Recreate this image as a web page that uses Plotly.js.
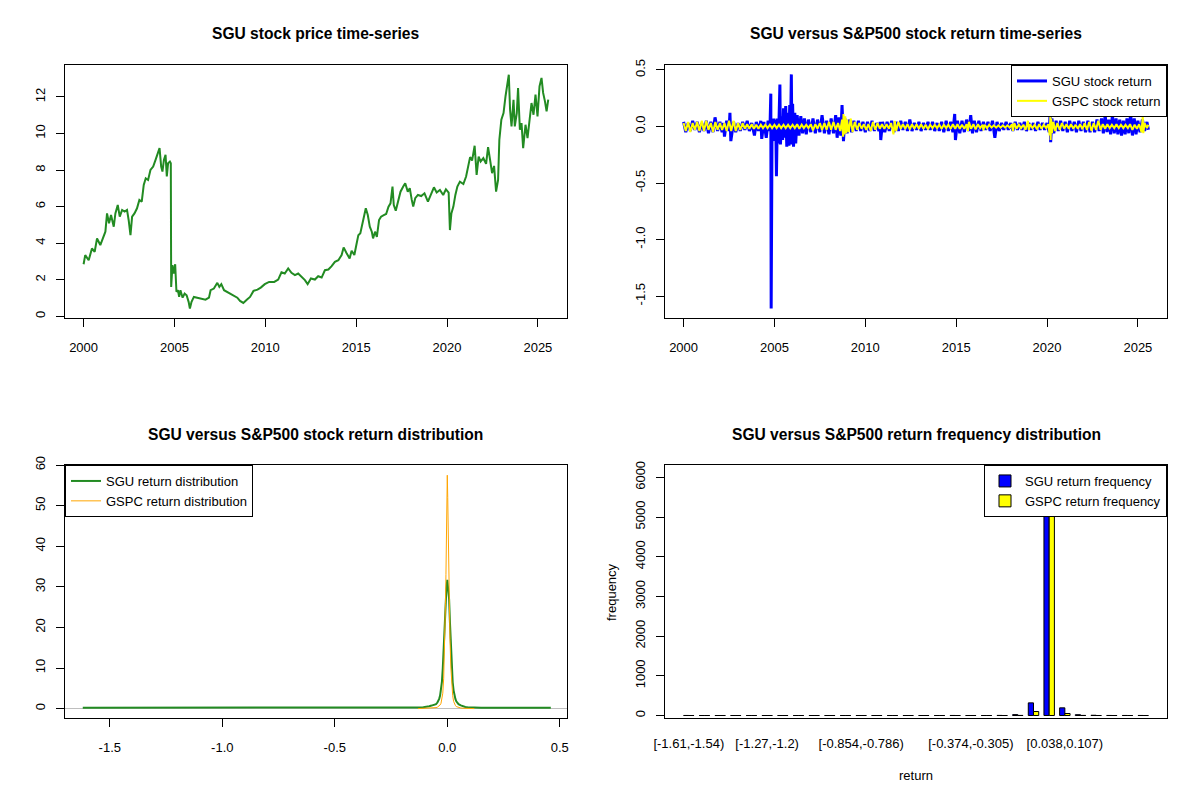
<!DOCTYPE html>
<html>
<head>
<meta charset="utf-8">
<script src="https://cdn.plot.ly/plotly-3.0.1.min.js"></script>
<style>html,body{margin:0;padding:0;background:#fff;}#chart{width:1200px;height:800px;}</style>
</head>
<body>
<div id="chart"></div>
<script>
// ---------- Panel 1: SGU price ----------
const priceYear = [2000.00,2000.09,2000.28,2000.46,2000.61,2000.74,2000.92,2001.07,2001.20,2001.29,2001.40,2001.51,2001.66,2001.75,2001.88,2001.99,2002.12,2002.26,2002.39,2002.48,2002.58,2002.67,2002.80,2002.94,2003.07,2003.20,2003.31,2003.42,2003.55,2003.68,2003.83,2003.96,2004.05,2004.18,2004.27,2004.34,2004.42,2004.51,2004.58,2004.65,2004.75,2004.80,2004.82,2004.89,2004.97,2005.04,2005.11,2005.19,2005.26,2005.33,2005.45,2005.56,2005.67,2005.78,2005.85,2005.94,2006.07,2006.25,2006.44,2006.71,2006.90,2006.99,2007.17,2007.36,2007.47,2007.58,2007.73,2007.91,2008.09,2008.28,2008.46,2008.61,2008.79,2008.98,2009.16,2009.35,2009.57,2009.75,2009.97,2010.21,2010.49,2010.71,2010.89,2011.07,2011.26,2011.44,2011.63,2011.81,2011.99,2012.18,2012.33,2012.51,2012.73,2012.91,2013.10,2013.28,2013.47,2013.65,2013.83,2014.02,2014.20,2014.31,2014.46,2014.64,2014.75,2014.90,2015.01,2015.12,2015.23,2015.34,2015.45,2015.53,2015.64,2015.75,2015.86,2015.93,2016.04,2016.14,2016.26,2016.37,2016.52,2016.65,2016.78,2016.89,2017.00,2017.07,2017.18,2017.29,2017.44,2017.59,2017.70,2017.84,2017.95,2018.06,2018.14,2018.25,2018.40,2018.58,2018.76,2018.95,2019.09,2019.28,2019.43,2019.61,2019.79,2019.94,2020.09,2020.16,2020.24,2020.35,2020.46,2020.57,2020.71,2020.90,2021.05,2021.16,2021.27,2021.38,2021.52,2021.63,2021.74,2021.85,2022.00,2022.15,2022.26,2022.37,2022.48,2022.59,2022.70,2022.81,2022.88,2022.99,2023.11,2023.22,2023.31,2023.40,2023.47,2023.55,2023.66,2023.73,2023.84,2023.91,2024.01,2024.10,2024.19,2024.32,2024.43,2024.54,2024.65,2024.76,2024.87,2024.98,2025.09,2025.20,2025.29,2025.39,2025.48,2025.57];
const priceValue = [2.85,3.35,3.07,3.71,3.53,4.26,3.90,4.35,4.63,5.63,5.09,5.54,4.90,5.63,6.09,5.45,5.82,5.73,5.82,5.27,4.44,5.45,5.63,5.91,6.37,6.27,7.19,7.55,7.46,8.01,8.19,8.56,8.83,9.20,8.19,7.92,8.56,8.83,7.65,8.38,8.47,8.38,1.61,2.80,2.34,2.85,1.34,1.43,1.06,1.43,1.02,1.24,1.15,0.79,0.42,0.79,1.06,1.02,0.97,0.91,1.02,1.43,1.52,1.83,1.61,1.76,1.43,1.34,1.24,1.13,1.02,0.84,0.73,0.91,1.06,1.39,1.46,1.57,1.76,1.88,1.88,2.01,2.41,2.34,2.62,2.38,2.25,2.34,2.16,1.98,1.76,2.07,2.01,2.19,2.12,2.52,2.56,2.74,2.98,3.07,3.35,3.77,3.48,3.16,3.59,3.35,3.90,4.44,4.54,5.09,5.45,5.91,5.54,4.90,4.63,4.26,4.63,4.35,5.27,5.45,5.54,5.60,6.00,6.18,7.10,6.09,5.78,6.18,6.82,7.10,7.28,6.82,7.01,6.37,6.00,6.46,6.64,6.58,6.73,6.27,6.64,7.06,6.77,6.91,6.64,6.95,6.77,4.72,5.63,6.00,6.64,7.10,7.37,7.24,7.65,8.10,8.71,8.52,9.33,7.74,8.74,8.47,8.65,8.34,9.26,8.56,7.83,8.23,6.82,7.46,9.66,10.76,11.12,12.04,12.77,13.22,11.30,10.39,11.85,10.39,11.12,12.49,10.21,10.57,9.20,10.48,9.75,10.66,11.67,11.03,12.13,10.94,12.58,13.04,12.22,11.76,11.21,11.85];
const yearTicks = [2000,2005,2010,2015,2020,2025];
const priceTicks = [0,2,4,6,8,10,12];

// ---------- Panel 2: daily returns ----------
const sguRetYear = [2000.00,2000.12,2000.25,2000.37,2000.50,2000.62,2000.75,2000.87,2001.00,2001.12,2001.25,2001.37,2001.50,2001.62,2001.73,2001.87,2002.00,2002.12,2002.20,2002.25,2002.37,2002.50,2002.55,2002.60,2002.75,2002.87,2003.00,2003.12,2003.25,2003.37,2003.50,2003.62,2003.75,2003.90,2004.00,2004.12,2004.25,2004.30,2004.42,2004.55,2004.65,2004.75,2004.80,2004.82,2004.87,2004.92,2004.97,2005.02,2005.07,2005.11,2005.16,2005.22,2005.30,2005.33,2005.40,2005.45,2005.50,2005.55,2005.62,2005.68,2005.75,2005.80,2005.84,2005.88,2005.93,2005.96,2006.00,2006.05,2006.12,2006.17,2006.25,2006.35,2006.45,2006.55,2006.65,2006.75,2006.87,2007.00,2007.12,2007.25,2007.37,2007.50,2007.62,2007.75,2007.87,2008.00,2008.12,2008.25,2008.37,2008.45,2008.55,2008.65,2008.72,2008.80,2008.87,2009.00,2009.12,2009.25,2009.37,2009.50,2009.62,2009.75,2009.87,2010.00,2010.12,2010.25,2010.37,2010.50,2010.62,2010.75,2010.82,2010.85,2010.95,2011.07,2011.20,2011.32,2011.45,2011.57,2011.70,2011.82,2011.95,2012.07,2012.20,2012.32,2012.45,2012.57,2012.70,2012.82,2012.95,2013.07,2013.20,2013.32,2013.45,2013.57,2013.70,2013.82,2013.95,2014.07,2014.20,2014.32,2014.45,2014.57,2014.70,2014.82,2014.92,2014.96,2015.07,2015.20,2015.32,2015.45,2015.57,2015.70,2015.80,2015.90,2016.00,2016.12,2016.25,2016.37,2016.50,2016.62,2016.75,2016.87,2017.00,2017.13,2017.25,2017.37,2017.50,2017.62,2017.75,2017.87,2018.00,2018.12,2018.25,2018.37,2018.50,2018.62,2018.75,2018.87,2019.00,2019.12,2019.25,2019.37,2019.50,2019.62,2019.75,2019.87,2020.00,2020.12,2020.17,2020.20,2020.27,2020.37,2020.50,2020.62,2020.75,2020.87,2021.00,2021.12,2021.25,2021.37,2021.50,2021.62,2021.75,2021.87,2022.00,2022.12,2022.25,2022.37,2022.50,2022.62,2022.75,2022.87,2023.00,2023.10,2023.20,2023.30,2023.40,2023.50,2023.60,2023.70,2023.80,2023.90,2024.00,2024.10,2024.20,2024.30,2024.40,2024.50,2024.60,2024.70,2024.80,2024.90,2025.00,2025.12,2025.25,2025.37,2025.50,2025.58];
const sguRet = [0.04,-0.05,0.03,-0.04,0.05,-0.03,0.04,-0.05,0.03,-0.04,0.05,-0.06,0.04,-0.05,0.08,-0.04,0.04,-0.05,0.03,-0.09,0.05,-0.04,0.12,-0.13,0.04,-0.05,0.03,-0.04,0.04,-0.03,0.05,-0.04,0.03,-0.08,0.04,-0.04,0.05,-0.11,0.04,-0.10,0.05,-0.04,0.29,-1.61,0.06,-0.13,0.07,-0.08,0.06,-0.44,0.07,-0.15,0.37,-0.16,0.09,-0.12,0.16,-0.10,0.18,-0.18,0.12,-0.17,0.19,-0.12,0.46,-0.16,0.20,-0.18,0.12,-0.15,0.10,-0.08,0.09,-0.06,0.07,-0.07,0.06,-0.05,0.07,-0.06,0.06,-0.05,0.10,-0.06,0.05,-0.07,0.07,-0.06,0.10,-0.10,0.08,-0.08,0.19,-0.13,0.07,-0.06,0.06,-0.05,0.05,-0.04,0.05,-0.04,0.04,-0.05,0.04,-0.04,0.05,-0.04,0.03,-0.04,0.04,-0.12,0.04,-0.05,0.04,-0.04,0.05,-0.05,0.04,-0.04,0.05,-0.03,0.04,-0.04,0.06,-0.04,0.03,-0.03,0.04,-0.04,0.03,-0.03,0.04,-0.03,0.04,-0.04,0.03,-0.04,0.04,-0.05,0.05,-0.04,0.04,-0.05,0.11,-0.12,0.05,-0.06,0.05,-0.05,0.06,-0.04,0.10,-0.06,0.05,-0.05,0.05,-0.04,0.04,-0.03,0.04,-0.04,0.05,-0.10,0.04,-0.04,0.03,-0.03,0.04,-0.03,0.03,-0.04,0.04,-0.03,0.03,-0.03,0.04,-0.04,0.03,-0.03,0.03,-0.04,0.04,-0.03,0.03,-0.03,0.03,-0.05,0.11,-0.14,0.07,-0.06,0.05,-0.04,0.05,-0.04,0.04,-0.05,0.05,-0.04,0.04,-0.05,0.05,-0.04,0.04,-0.05,0.05,-0.05,0.04,-0.05,0.06,-0.04,0.07,-0.06,0.10,-0.05,0.06,-0.07,0.10,-0.06,0.07,-0.07,0.06,-0.08,0.05,-0.07,0.07,-0.06,0.11,-0.08,0.07,-0.07,0.05,-0.05,0.06,-0.04,0.04,-0.03];
const gspcRetYear = [2000.00,2000.12,2000.25,2000.37,2000.50,2000.62,2000.75,2000.87,2001.00,2001.12,2001.25,2001.37,2001.50,2001.62,2001.75,2001.87,2002.00,2002.12,2002.25,2002.37,2002.50,2002.62,2002.75,2002.87,2003.00,2003.12,2003.25,2003.37,2003.50,2003.62,2003.75,2003.87,2004.00,2004.12,2004.25,2004.37,2004.50,2004.62,2004.75,2004.87,2005.00,2005.12,2005.25,2005.37,2005.50,2005.62,2005.75,2005.87,2006.00,2006.12,2006.25,2006.37,2006.50,2006.62,2006.75,2006.87,2007.00,2007.12,2007.25,2007.37,2007.50,2007.62,2007.75,2007.87,2008.00,2008.12,2008.25,2008.37,2008.50,2008.62,2008.72,2008.78,2008.80,2008.85,2008.90,2008.95,2009.00,2009.08,2009.20,2009.30,2009.42,2009.55,2009.67,2009.80,2009.92,2010.05,2010.17,2010.30,2010.42,2010.55,2010.67,2010.80,2010.92,2011.05,2011.17,2011.30,2011.42,2011.55,2011.62,2011.70,2011.82,2011.95,2012.07,2012.20,2012.32,2012.45,2012.57,2012.70,2012.82,2012.95,2013.07,2013.20,2013.32,2013.45,2013.57,2013.70,2013.82,2013.95,2014.07,2014.20,2014.32,2014.45,2014.57,2014.70,2014.82,2014.95,2015.07,2015.20,2015.32,2015.45,2015.57,2015.65,2015.70,2015.82,2015.95,2016.07,2016.20,2016.32,2016.45,2016.50,2016.57,2016.70,2016.82,2016.95,2017.07,2017.20,2017.32,2017.45,2017.57,2017.70,2017.82,2017.95,2018.07,2018.12,2018.20,2018.32,2018.45,2018.57,2018.70,2018.82,2018.95,2019.00,2019.07,2019.20,2019.32,2019.45,2019.57,2019.70,2019.82,2019.95,2020.07,2020.15,2020.18,2020.20,2020.23,2020.27,2020.35,2020.45,2020.57,2020.70,2020.82,2020.95,2021.07,2021.20,2021.32,2021.45,2021.57,2021.70,2021.82,2021.95,2022.07,2022.20,2022.32,2022.45,2022.57,2022.70,2022.82,2022.95,2023.07,2023.20,2023.32,2023.45,2023.57,2023.70,2023.82,2023.95,2024.07,2024.20,2024.32,2024.45,2024.57,2024.70,2024.82,2024.95,2025.07,2025.20,2025.27,2025.30,2025.37,2025.50,2025.58];
const gspcRet = [0.03,-0.04,0.04,-0.05,0.03,-0.03,0.04,-0.04,0.05,-0.04,0.05,-0.03,0.03,-0.05,0.04,-0.03,0.03,-0.03,0.03,-0.04,0.05,-0.04,0.05,-0.04,0.03,-0.03,0.03,-0.02,0.02,-0.02,0.02,-0.02,0.015,-0.02,0.015,-0.015,0.015,-0.015,0.015,-0.015,0.015,-0.015,0.015,-0.015,0.015,-0.015,0.015,-0.015,0.015,-0.015,0.02,-0.02,0.015,-0.015,0.015,-0.015,0.02,-0.035,0.02,-0.02,0.03,-0.03,0.03,-0.03,0.04,-0.03,0.04,-0.03,0.03,-0.04,0.06,-0.09,0.11,-0.07,0.09,-0.06,0.06,-0.05,0.07,-0.05,0.04,-0.03,0.03,-0.02,0.02,-0.03,0.02,-0.04,0.04,-0.03,0.03,-0.02,0.02,-0.02,0.02,-0.02,0.03,-0.07,0.05,-0.04,0.04,-0.02,0.02,-0.02,0.02,-0.025,0.02,-0.02,0.02,-0.02,0.02,-0.02,0.015,-0.025,0.015,-0.015,0.015,-0.015,0.015,-0.02,0.015,-0.015,0.015,-0.02,0.02,-0.02,0.02,-0.02,0.015,-0.02,0.02,-0.04,0.04,-0.02,0.02,-0.025,0.02,-0.015,0.015,-0.035,0.015,-0.015,0.015,-0.01,0.01,-0.01,0.01,-0.01,0.01,-0.01,0.01,-0.01,0.02,-0.04,0.03,-0.02,0.015,-0.015,0.015,-0.03,0.05,-0.03,0.02,-0.015,0.015,-0.025,0.02,-0.02,0.015,-0.015,0.02,-0.08,0.09,-0.12,0.07,-0.06,0.04,-0.04,0.03,-0.03,0.03,-0.02,0.02,-0.02,0.02,-0.02,0.015,-0.02,0.02,-0.025,0.03,-0.03,0.04,-0.04,0.03,-0.03,0.05,-0.03,0.02,-0.02,0.02,-0.015,0.015,-0.015,0.02,-0.015,0.015,-0.015,0.015,-0.015,0.02,-0.03,0.015,-0.02,0.02,-0.05,0.095,-0.06,0.03,-0.015,0.015];
const retTicks = [-1.5,-1.0,-0.5,0.0,0.5];
const retTickText = ['-1.5','-1.0','-0.5','0.0','0.5'];

// ---------- Panel 3: return densities ----------
const sguDensX = [-1.62,-1.2,-0.8,-0.5,-0.3,-0.2,-0.16,-0.14,-0.13,-0.12,-0.11,-0.10,-0.09,-0.08,-0.07,-0.06,-0.05,-0.044,-0.04,-0.036,-0.032,-0.028,-0.024,-0.020,-0.016,-0.012,-0.008,-0.004,0.000,0.004,0.008,0.012,0.016,0.020,0.024,0.028,0.032,0.036,0.040,0.044,0.05,0.06,0.07,0.08,0.09,0.10,0.11,0.12,0.13,0.15,0.2,0.3,0.46];
const sguDensY = [0.2,0.2,0.2,0.2,0.2,0.2,0.22,0.25,0.28,0.35,0.3,0.4,0.45,0.6,0.75,0.9,1.1,1.5,1.8,2.4,3.2,4.5,6.5,10.0,15.0,21.0,27.0,29.5,31.7,29.5,27.0,21.0,15.0,10.0,6.5,4.5,3.2,2.4,1.8,1.5,1.1,0.8,0.55,0.4,0.35,0.3,0.25,0.25,0.22,0.2,0.2,0.2,0.2];
const gspcDensX = [-0.13,-0.11,-0.09,-0.07,-0.06,-0.05,-0.044,-0.04,-0.036,-0.032,-0.028,-0.024,-0.020,-0.016,-0.012,-0.008,-0.006,-0.004,-0.002,0.000,0.002,0.004,0.006,0.008,0.010,0.012,0.016,0.020,0.024,0.028,0.032,0.036,0.040,0.05,0.06,0.07,0.09,0.12];
const gspcDensY = [0.01,0.03,0.05,0.1,0.15,0.25,0.35,0.5,0.7,0.9,1.3,2.2,3.8,7.5,15,26,33,41,42,57.5,52,44,32,27,22,17,10,5.5,3.2,1.8,1.1,0.8,0.5,0.25,0.15,0.1,0.05,0.01];
const densXTicks = [-1.5,-1.0,-0.5,0.0,0.5];
const densXTickText = ['-1.5','-1.0','-0.5','0.0','0.5'];
const densYTicks = [0,10,20,30,40,50,60];

// ---------- Panel 4: return frequency ----------
const binLabels = ['[-1.61,-1.54)','[-1.54,-1.47)','[-1.47,-1.4)','[-1.4,-1.33)','[-1.33,-1.27)','[-1.27,-1.2)','[-1.2,-1.13)','[-1.13,-1.06)','[-1.06,-0.992)','[-0.992,-0.923)','[-0.923,-0.854)','[-0.854,-0.786)','[-0.786,-0.717)','[-0.717,-0.648)','[-0.648,-0.58)','[-0.58,-0.511)','[-0.511,-0.442)','[-0.442,-0.374)','[-0.374,-0.305)','[-0.305,-0.237)','[-0.237,-0.168)','[-0.168,-0.0993)','[-0.0993,-0.0306)','[-0.0306,0.038)','[0.038,0.107)','[0.107,0.175)','[0.175,0.244)','[0.244,0.313)','[0.313,0.381)','[0.381,0.45]'];
const sguFreq  = [1,0,0,0,0,0,0,0,0,0,0,0,0,0,0,0,0,1,0,0,2,22,318,5898,193,20,6,1,1,1];
const gspcFreq = [0,0,0,0,0,0,0,0,0,0,0,0,0,0,0,0,0,0,0,0,0,2,100,6310,50,2,0,0,0,0];
const shownBinLabels = ['[-1.61,-1.54)','[-1.27,-1.2)','[-0.854,-0.786)','[-0.374,-0.305)','[0.038,0.107)'];
const freqTicks = [0,1000,2000,3000,4000,5000,6000];

// ---------- layout geometry ----------
const W = 1200, H = 800;
const colL = [65/W, 567/W], colR = [665/W, 1167/W];
const rowT = [1-318/H, 1-65/H], rowB = [1-718/H, 1-465/H];
const FONT = '"Liberation Sans", Arial, Helvetica, sans-serif';
const FS = 13;

function ax(extra) {
  return Object.assign({
    showline: true, mirror: true, linecolor: 'black', linewidth: 1,
    ticks: 'outside', ticklen: 8, tickwidth: 1, tickcolor: 'black',
    showgrid: false, zeroline: false, tickfont: {size: FS, color: 'black', family: FONT},
    fixedrange: true
  }, extra);
}

const traces = [
  {x: priceYear, y: priceValue, type: 'scatter', mode: 'lines', xaxis: 'x', yaxis: 'y',
   line: {color: '#228B22', width: 2}, showlegend: false, hoverinfo: 'skip'},
  {x: sguRetYear, y: sguRet, type: 'scatter', mode: 'lines', xaxis: 'x2', yaxis: 'y2',
   name: 'SGU stock return', line: {color: '#0000FF', width: 3, simplify: false}, legend: 'legend'},
  {x: gspcRetYear, y: gspcRet, type: 'scatter', mode: 'lines', xaxis: 'x2', yaxis: 'y2',
   name: 'GSPC stock return', line: {color: '#FFFF00', width: 2, simplify: false}, legend: 'legend'},
  {x: sguDensX, y: sguDensY, type: 'scatter', mode: 'lines', xaxis: 'x3', yaxis: 'y3',
   name: 'SGU return distribution', line: {color: '#228B22', width: 2}, legend: 'legend2'},
  {x: gspcDensX, y: gspcDensY, type: 'scatter', mode: 'lines', xaxis: 'x3', yaxis: 'y3',
   name: 'GSPC return distribution', line: {color: '#FFA500', width: 1}, legend: 'legend2'},
  {x: binLabels, y: sguFreq, type: 'bar', xaxis: 'x4', yaxis: 'y4',
   name: 'SGU return frequency', marker: {color: '#0000FF', line: {color: 'black', width: 1}}, legend: 'legend3'},
  {x: binLabels, y: gspcFreq, type: 'bar', xaxis: 'x4', yaxis: 'y4',
   name: 'GSPC return frequency', marker: {color: '#FFFF00', line: {color: 'black', width: 1}}, legend: 'legend3'}
];

const legBase = {bgcolor: 'white', bordercolor: 'black', borderwidth: 1,
  font: {size: FS, color: 'black', family: FONT}, tracegroupgap: 0, itemwidth: 30};

const titleFont = {size: 15.6, color: 'black', family: FONT, weight: 'bold'};
function title(text, xc, ypx) {
  return {text: '<b>' + text + '</b>', x: xc, y: 1 - ypx/H, xref: 'paper', yref: 'paper',
    xanchor: 'center', yanchor: 'middle', showarrow: false, font: titleFont};
}
const cL = (colL[0]+colL[1])/2, cR = (colR[0]+colR[1])/2;

const layout = {
  width: W, height: H, margin: {l: 0, r: 0, t: 0, b: 0},
  paper_bgcolor: 'white', plot_bgcolor: 'white',
  font: {family: FONT, size: FS, color: 'black'},
  showlegend: true, barmode: 'group', bargap: 1/3, bargroupgap: 0,
  xaxis: ax({domain: colL, anchor: 'y', range: [1998.977, 2026.603], tickmode: 'array', tickvals: yearTicks, ticklabelstandoff: 9}),
  yaxis: ax({domain: rowT, anchor: 'x', range: [-0.093, 13.75], tickmode: 'array', tickvals: priceTicks, tickangle: -90, ticklabelstandoff: 6}),
  xaxis2: ax({domain: colR, anchor: 'y2', range: [1998.977, 2026.603], tickmode: 'array', tickvals: yearTicks, ticklabelstandoff: 9}),
  yaxis2: ax({domain: rowT, anchor: 'x2', range: [-1.693, 0.543], tickmode: 'array', tickvals: retTicks, ticktext: retTickText, tickangle: -90, ticklabelstandoff: 6}),
  xaxis3: ax({domain: colL, anchor: 'y3', range: [-1.699, 0.532], tickmode: 'array', tickvals: densXTicks, ticktext: densXTickText, ticklabelstandoff: 9}),
  yaxis3: ax({domain: rowB, anchor: 'x3', range: [-2.31, 60.02], tickmode: 'array', tickvals: densYTicks, tickangle: -90, ticklabelstandoff: 6,
    zeroline: true, zerolinecolor: '#BEBEBE', zerolinewidth: 1}),
  xaxis4: ax({domain: colR, anchor: 'y4', type: 'category', range: [-1.52, 30.52], ticks: '', tickmode: 'array',
    tickvals: shownBinLabels, ticktext: shownBinLabels, ticklabelstandoff: 13, tickangle: 0}),
  yaxis4: ax({domain: rowB, anchor: 'x4', range: [-63, 6310], tickmode: 'array', tickvals: freqTicks, tickangle: -90, ticklabelstandoff: 6}),
  legend: Object.assign({}, legBase, {x: colR[1], xanchor: 'right', y: rowT[1], yanchor: 'top'}),
  legend2: Object.assign({}, legBase, {x: colL[0], xanchor: 'left', y: rowB[1], yanchor: 'top'}),
  legend3: Object.assign({}, legBase, {x: colR[1], xanchor: 'right', y: rowB[1], yanchor: 'top'}),
  annotations: [
    title('SGU stock price time-series', cL, 34),
    title('SGU versus S&amp;P500 stock return time-series', cR, 34),
    title('SGU versus S&amp;P500 stock return distribution', cL, 434),
    title('SGU versus S&amp;P500 return frequency distribution', cR, 434),
    {text: 'return', x: cR, y: 1 - 775/H, xref: 'paper', yref: 'paper', xanchor: 'center', yanchor: 'middle',
     showarrow: false, font: {size: FS, color: 'black', family: FONT}},
    {text: 'frequency', x: 611/W, y: 1 - 592/H, xref: 'paper', yref: 'paper', xanchor: 'center', yanchor: 'middle',
     textangle: -90, showarrow: false, font: {size: FS, color: 'black', family: FONT}}
  ]
};

Plotly.newPlot('chart', traces, layout, {displayModeBar: false, staticPlot: true});
</script>
</body>
</html>
